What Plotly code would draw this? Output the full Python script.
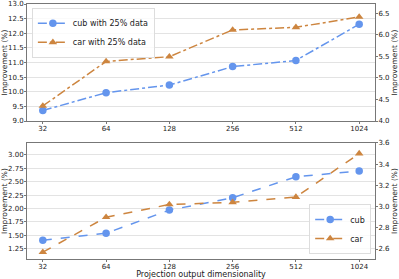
import plotly.graph_objects as go

dims = ["32", "64", "128", "256", "512", "1024"]
cub_25 = [9.36, 9.97, 10.23, 10.86, 11.07, 12.31]
car_25 = [4.35, 5.38, 5.49, 6.11, 6.17, 6.41]
cub_full = [1.41, 1.54, 1.97, 2.20, 2.59, 2.70]
car_full = [2.57, 2.90, 3.02, 3.04, 3.09, 3.50]

BLUE = "#6495ED"
ORANGE = "#CD853F"
FONT = "DejaVu Sans"

fig = go.Figure()
fig.add_trace(go.Scatter(x=dims, y=cub_25, name="cub with 25% data", mode="lines+markers",
                         line=dict(color=BLUE, width=1.5, dash="dashdot"),
                         marker=dict(symbol="circle", size=7.5, color=BLUE),
                         xaxis="x", yaxis="y", legend="legend"))
fig.add_trace(go.Scatter(x=dims, y=car_25, name="car with 25% data", mode="lines+markers",
                         line=dict(color=ORANGE, width=1.5, dash="dashdot"),
                         marker=dict(symbol="triangle-up", size=7.5, color=ORANGE),
                         xaxis="x", yaxis="y2", legend="legend"))
fig.add_trace(go.Scatter(x=dims, y=cub_full, name="cub", mode="lines+markers",
                         line=dict(color=BLUE, width=1.5, dash="dash"),
                         marker=dict(symbol="circle", size=7.5, color=BLUE),
                         xaxis="x2", yaxis="y3", legend="legend2"))
fig.add_trace(go.Scatter(x=dims, y=car_full, name="car", mode="lines+markers",
                         line=dict(color=ORANGE, width=1.5, dash="dash"),
                         marker=dict(symbol="triangle-up", size=7.5, color=ORANGE),
                         xaxis="x2", yaxis="y4", legend="legend2"))

tickfont = dict(family=FONT, size=7, color="#222")
titlefont = dict(family=FONT, size=7.5, color="#222")
spine = "#777"

xcommon = dict(type="category", range=[-0.25, 5.25], showgrid=False, showline=True,
               linecolor=spine, linewidth=1, mirror=True, ticks="outside", ticklen=2,
               tickcolor=spine, tickfont=tickfont, automargin=False, ticklabelstandoff=-1)
ycommon = dict(showline=True, linecolor=spine, linewidth=1, ticks="outside", ticklen=2,
               tickcolor=spine, tickfont=tickfont, zeroline=False, automargin=False,
               ticklabelstandoff=-1)

top_dom = [0.541, 1.0]
bot_dom = [0.0, 0.455]

fig.update_layout(
    width=399, height=279,
    margin=dict(l=27, r=24, t=4, b=20, autoexpand=False),
    paper_bgcolor="white", plot_bgcolor="white",
    font=dict(family=FONT),
    xaxis=dict(domain=[0, 1], anchor="y", **xcommon),
    xaxis2=dict(domain=[0, 1], anchor="y3",
                title=dict(text="Projection output dimensionality",
                           font=dict(family=FONT, size=8, color="#222"), standoff=0),
                **xcommon),
    yaxis=dict(domain=top_dom, anchor="x", range=[9.0, 13.0], dtick=0.5, tickformat=".1f",
               showgrid=True, gridcolor="#e3e3e3", gridwidth=1, mirror=False,
               title=dict(text="Improvement (%)", font=titlefont, standoff=0), **ycommon),
    yaxis2=dict(overlaying="y", side="right", anchor="x", range=[4.0, 6.71], dtick=0.5,
                tickformat=".1f", showgrid=False,
                title=dict(text="Improvement (%)", font=titlefont, standoff=0), **ycommon),
    yaxis3=dict(domain=bot_dom, anchor="x2", range=[1.06, 3.22], tick0=1.25, dtick=0.25,
                tickformat=".2f", showgrid=True, gridcolor="#e3e3e3", gridwidth=1,
                title=dict(text="Improvement (%)", font=titlefont, standoff=0), **ycommon),
    yaxis4=dict(overlaying="y3", side="right", anchor="x2", range=[2.506, 3.6], tick0=2.6,
                dtick=0.2, tickformat=".1f", showgrid=False,
                title=dict(text="Improvement (%)", font=titlefont, standoff=0), **ycommon),
    legend=dict(x=0.014, y=0.985, xanchor="left", yanchor="top",
                bgcolor="rgba(255,255,255,0.8)", bordercolor="#ddd", borderwidth=1,
                font=dict(family=FONT, size=8, color="#222"), tracegroupgap=0,
                itemwidth=30),
    legend2=dict(x=0.989, y=0.02, xanchor="right", yanchor="bottom",
                 bgcolor="rgba(255,255,255,0.8)", bordercolor="#ddd", borderwidth=1,
                 font=dict(family=FONT, size=8, color="#222"), tracegroupgap=0,
                 itemwidth=30),
    showlegend=True,
)

fig.write_html("out.html", config={"displayModeBar": False},
               post_script="document.body.style.margin='0';document.body.style.overflow='hidden';")
